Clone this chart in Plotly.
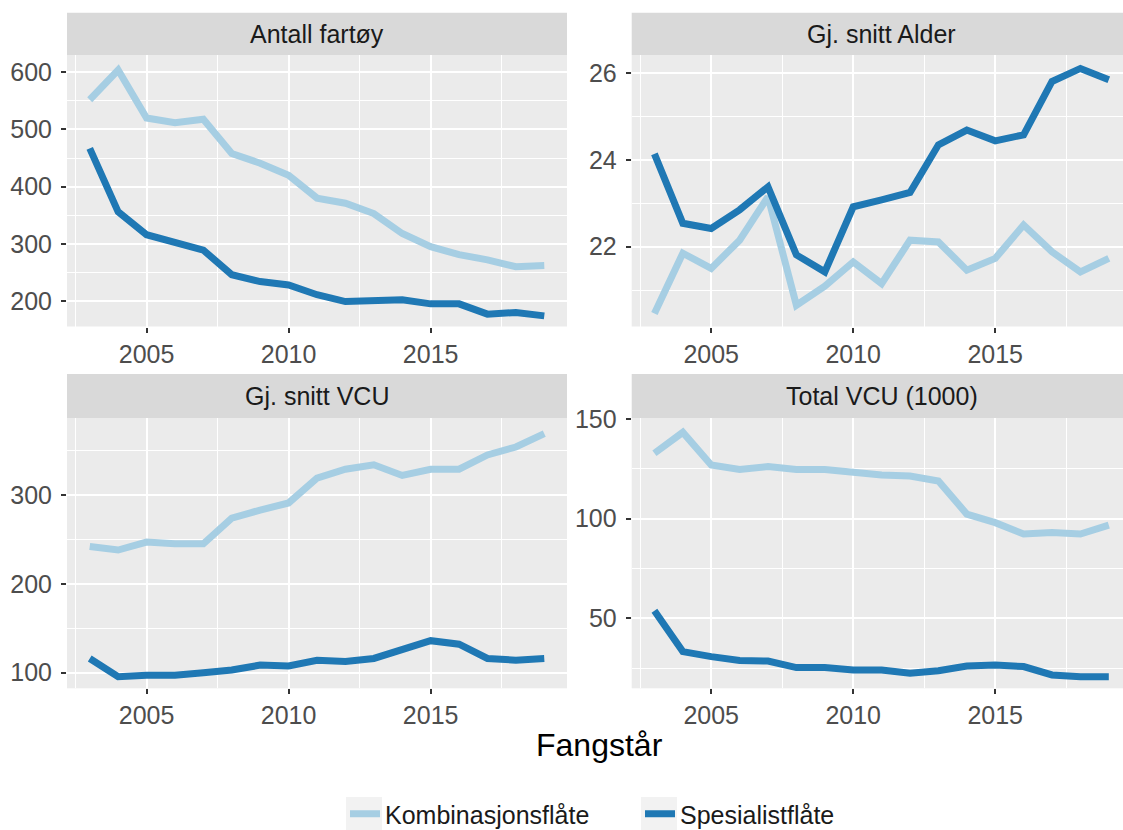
import plotly.graph_objects as go

# ---------------- data ----------------
years = list(range(2003, 2020))
series_names = ["Kombinasjonsflåte", "Spesialistflåte"]
series_colors = ["#a6cee3", "#1f78b4"]
panel_titles = ["Antall fartøy", "Gj. snitt Alder", "Gj. snitt VCU", "Total VCU (1000)"]
x_title = "Fangstår"

antall_komb = [552, 604, 520, 512, 518, 458, 441, 420, 380, 371, 353, 318, 295, 281, 272, 260, 262]
antall_spes = [467, 356, 316, 301, 289, 246, 234, 228, 211, 199, 202, 202, 195, 195, 177, 180, 174]
alder_komb = [20.46, 21.85, 21.50, 22.15, 23.15, 20.65, 21.09, 21.65, 21.15, 22.15, 22.11, 21.46, 21.73, 22.50, 21.88, 21.42, 21.73]
alder_spes = [24.14, 22.54, 22.42, 22.85, 23.38, 21.81, 21.42, 22.92, 23.08, 23.25, 24.35, 24.69, 24.44, 24.58, 25.81, 26.11, 25.85]
vcu_komb = [242, 238, 247, 245, 245, 274, 283, 291, 319, 329, 334, 322, 329, 329, 345, 354, 369]
vcu_spes = [116, 95.5, 97, 97, 100, 103, 108.5, 107.5, 114, 112.5, 116, 126, 136, 132, 116, 114, 116]
total_komb = [132.8, 143.3, 126.9, 124.7, 126.1, 124.7, 124.7, 123.1, 121.9, 121.4, 118.9, 102.3, 98.0, 92.3, 93.1, 92.3, 96.8]
total_spes = [53.8, 33.3, 30.8, 28.8, 28.6, 25.3, 25.3, 24.1, 24.1, 22.4, 23.7, 26.1, 26.6, 25.8, 21.6, 20.7, 20.7]

panel_data = [
    (antall_komb, antall_spes),
    (alder_komb, alder_spes),
    (vcu_komb, vcu_spes),
    (total_komb, total_spes),
]

# ---------------- layout geometry (px) ----------------
W, H = 1123, 830
FONT = "Liberation Sans, Arial, sans-serif"

def px_x(v):
    return v / W

def px_y(v):
    return 1 - v / H

col_x = [(67, 567), (631.7, 1123)]          # plot areas (right column cropped by image edge)
col_full_right = [567, 1131.7]               # uncropped right edges (for strip text centring)
row_y = [(55, 326.5), (418.3, 688.3)]        # plot areas (top, bottom)
strip_y = [(12.7, 55), (374, 418.3)]

x_ranges = [[2002.2, 2019.8], [2002.2, 2019.5]]
y_ranges = [[155.4, 630.3], [20.16, 26.42], [82.4, 386.3], [14.9, 150.35]]
y_dticks = [100, 2, 100, 50]

fig = go.Figure()

tick_font = dict(family=FONT, size=25, color="#4D4D4D")

for i in range(4):
    r, c = divmod(i, 2)
    xa = "x" if i == 0 else f"x{i+1}"
    ya = "y" if i == 0 else f"y{i+1}"
    for s in range(2):
        fig.add_trace(go.Scatter(
            x=years, y=panel_data[i][s], mode="lines",
            name=series_names[s], legendgroup=series_names[s],
            showlegend=(i == 0),
            line=dict(color=series_colors[s], width=7),
            xaxis=xa, yaxis=ya,
        ))
    xkey = "xaxis" if i == 0 else f"xaxis{i+1}"
    ykey = "yaxis" if i == 0 else f"yaxis{i+1}"
    fig.layout[xkey] = dict(
        domain=[px_x(col_x[c][0]), px_x(col_x[c][1])],
        range=x_ranges[c], anchor=ya, tick0=2005, dtick=5,
        showgrid=True, gridcolor="white", gridwidth=2,
        minor=dict(tick0=2002.5, dtick=2.5, showgrid=True, gridcolor="white", gridwidth=1),
        ticks="outside", ticklen=5, tickwidth=2, tickcolor="#333333",
        tickfont=tick_font, zeroline=False, showline=False, automargin=False,
    )
    fig.layout[ykey] = dict(
        domain=[px_y(row_y[r][1]), px_y(row_y[r][0])],
        range=y_ranges[i], anchor=xa, tick0=0, dtick=y_dticks[i],
        showgrid=True, gridcolor="white", gridwidth=2,
        minor=dict(tick0=0, dtick=y_dticks[i] / 2, showgrid=True, gridcolor="white", gridwidth=1),
        ticks="outside", ticklen=5, tickwidth=2, tickcolor="#333333",
        ticklabelstandoff=4,
        tickfont=tick_font, zeroline=False, showline=False, automargin=False,
    )

shapes = []
annotations = []
for i in range(4):
    r, c = divmod(i, 2)
    shapes.append(dict(
        type="rect", xref="paper", yref="paper",
        x0=px_x(col_x[c][0]), x1=px_x(col_x[c][1]),
        y0=px_y(strip_y[r][1]), y1=px_y(strip_y[r][0]),
        fillcolor="#D9D9D9", line=dict(width=0), layer="below",
    ))
    annotations.append(dict(
        text=panel_titles[i], xref="paper", yref="paper",
        x=px_x((col_x[c][0] + col_full_right[c]) / 2),
        y=px_y((strip_y[r][0] + strip_y[r][1]) / 2),
        xanchor="center", yanchor="middle", showarrow=False,
        font=dict(family=FONT, size=25, color="#1A1A1A"),
    ))

annotations.append(dict(
    text=x_title, xref="paper", yref="paper",
    x=px_x(599), y=px_y(745), xanchor="center", yanchor="middle",
    showarrow=False, font=dict(family=FONT, size=32, color="black"),
))

# legend key backgrounds
for kx in (346, 641):
    shapes.append(dict(
        type="rect", xref="paper", yref="paper",
        x0=px_x(kx), x1=px_x(kx + 36), y0=px_y(834), y1=px_y(797),
        fillcolor="#F2F2F2", line=dict(width=0), layer="below",
    ))

fig.update_layout(
    width=W, height=H,
    margin=dict(l=0, r=0, t=0, b=0, autoexpand=False),
    paper_bgcolor="white", plot_bgcolor="#EBEBEB",
    font=dict(family=FONT, size=25, color="#1A1A1A"),
    shapes=shapes, annotations=annotations,
    showlegend=True,
    legend=dict(
        orientation="h", xref="container", yref="container",
        x=px_x(345), xanchor="left",
        y=px_y(814), yanchor="middle",
        font=dict(family=FONT, size=25, color="#1A1A1A"),
        bgcolor="rgba(0,0,0,0)", itemwidth=30,
        entrywidth=250, entrywidthmode="pixels",
        borderwidth=0,
    ),
)

fig.write_html("out.html", config={"displayModeBar": False},
               post_script="document.body.style.margin='0';document.body.style.overflow='hidden';")
